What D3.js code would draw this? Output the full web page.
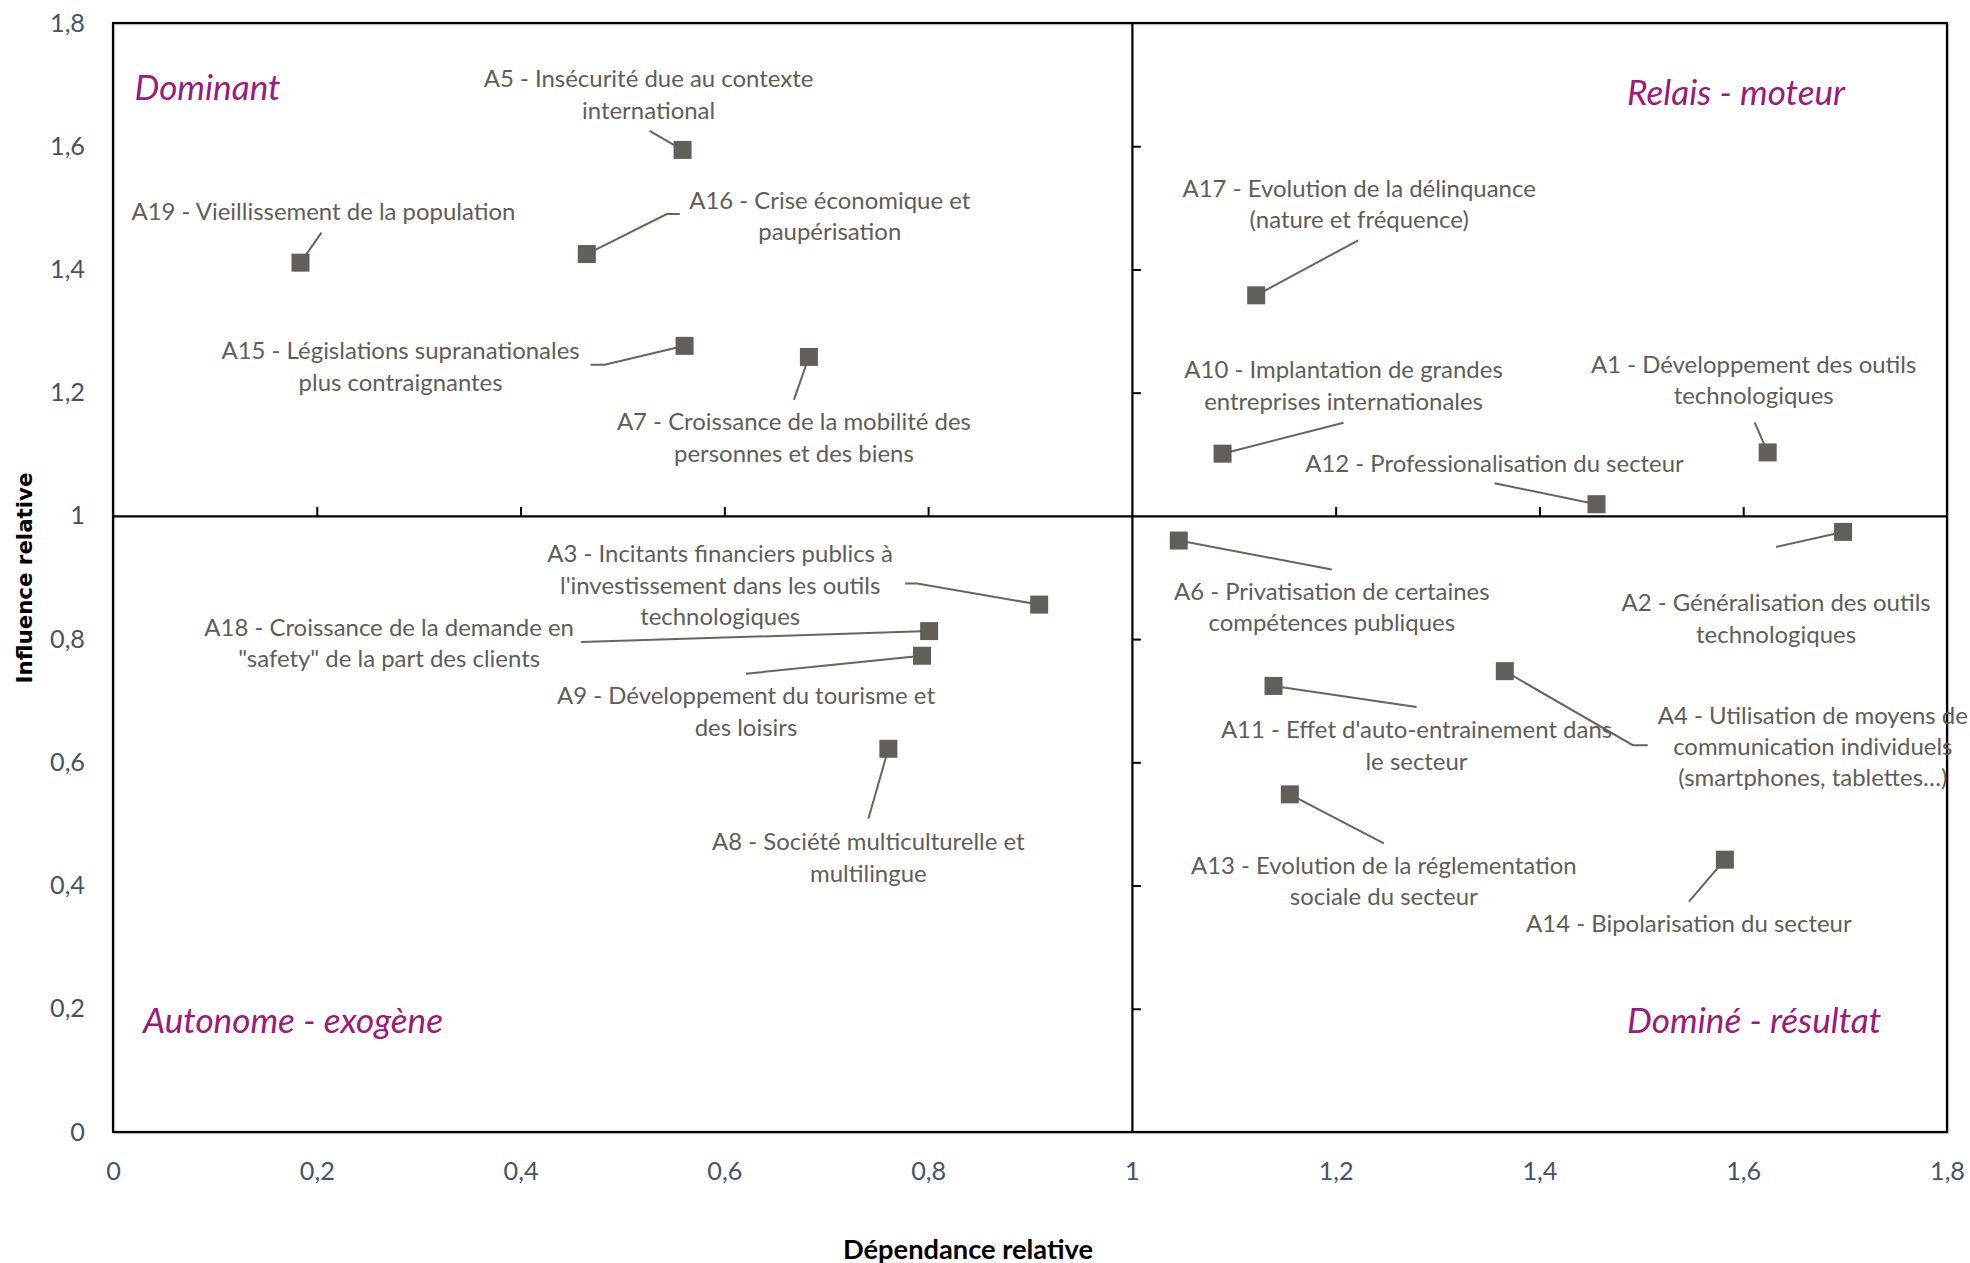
<!DOCTYPE html>
<html>
<head>
<meta charset="utf-8">
<script src="https://cdn.jsdelivr.net/npm/d3@7"></script>
<style>
  html, body { margin: 0; padding: 0; background: #fff; }
  svg { display: block; }
</style>
</head>
<body>
<svg id="chart" width="1970" height="1263"></svg>
<script>
// ---------------- DATA ----------------
const ids = ["A1","A2","A3","A4","A5","A6","A7","A8","A9","A10","A11","A12","A13","A14","A15","A16","A17","A18","A19"];
const dependance = [1.624, 1.698, 0.909, 1.366, 0.559, 1.046, 0.683, 0.761, 0.794, 1.089, 1.139, 1.456, 1.155, 1.582, 0.561, 0.465, 1.122, 0.801, 0.184];
const influence  = [1.103, 0.974, 0.856, 0.748, 1.594, 0.960, 1.258, 0.622, 0.773, 1.101, 0.724, 1.019, 0.548, 0.442, 1.276, 1.425, 1.358, 0.813, 1.411];
const labels = [
  ["A1 - Développement des outils", "technologiques"],
  ["A2 - Généralisation des outils", "technologiques"],
  ["A3 - Incitants financiers publics à", "l'investissement dans les outils", "technologiques"],
  ["A4 - Utilisation de moyens de", "communication individuels", "(smartphones, tablettes…)"],
  ["A5 - Insécurité due au contexte", "international"],
  ["A6 - Privatisation de certaines", "compétences publiques"],
  ["A7 - Croissance de la mobilité des", "personnes et des biens"],
  ["A8 - Société multiculturelle et", "multilingue"],
  ["A9 - Développement du tourisme et", "des loisirs"],
  ["A10 - Implantation de grandes", "entreprises internationales"],
  ["A11 - Effet d'auto-entrainement dans", "le secteur"],
  ["A12 - Professionalisation du secteur"],
  ["A13 - Evolution de la réglementation", "sociale du secteur"],
  ["A14 - Bipolarisation du secteur"],
  ["A15 - Législations supranationales", "plus contraignantes"],
  ["A16 - Crise économique et", "paupérisation"],
  ["A17 - Evolution de la délinquance", "(nature et fréquence)"],
  ["A18 - Croissance de la demande en", "\"safety\" de la part des clients"],
  ["A19 - Vieillissement de la population"]
];
const xTicks = [0, 0.2, 0.4, 0.6, 0.8, 1, 1.2, 1.4, 1.6, 1.8];
const yTicks = [0, 0.2, 0.4, 0.6, 0.8, 1, 1.2, 1.4, 1.6, 1.8];
const quadrantNames = ["Dominant", "Relais - moteur", "Autonome - exogène", "Dominé - résultat"];
const xTitle = "Dépendance relative";
const yTitle = "Influence relative";

// ---------------- LAYOUT (pixel offsets of labels / leader lines, relative to marker) ----------------
const labelOffset = [
  [-14, -89], [-67, 70], [-319, -52], [308, 43], [-34, -72], [153, 50], [-15, 64], [-20, 92], [-176, 39],
  [121, -85], [143, 43], [-102, -42], [94, 70], [-36, 63], [-284, 4], [243, -55], [103, -108], [-540, -5], [23, -52]
];
const leaderPts = [
  [[-13, -30]], [[-67, 15]], [[-122, -21], [-134, -21]], [[128, 74], [143, 74]], [[-33, -19]], [[153, 29]],
  [[-15, 43]], [[-20, 70]], [[-176, 18]], [[121, -31]], [[143, 21]], [[-102, -21]], [[94, 49]], [[-36, 42]],
  [[-80, 19], [-94, 19]], [[80, -40], [93, -40]], [[102, -55]], [[-348, 11]], [[21, -30]]
];
// quadrant name anchors (left edge, vertical centre) in axis units
const quadPos = [[0.021, 1.697], [1.486, 1.690], [0.0295, 0.184], [1.486, 0.184]];

// ---------------- CHART ----------------
const svg = d3.select("#chart");
const L = 113, R = 1947, T = 23, B = 1132;
const x = d3.scaleLinear().domain([0, 1.8]).range([L, R]);
const y = d3.scaleLinear().domain([0, 1.8]).range([B, T]);
const fmt = d => String(+d.toFixed(1)).replace(".", ",");

const FONT = "Lato, 'Open Sans', sans-serif";
function fitSize(str, family, weight, style, target) {
  const t = svg.append("text").attr("font-family", family).attr("font-weight", weight)
    .attr("font-style", style).attr("font-size", 100).text(str);
  const w = t.node().getComputedTextLength();
  t.remove();
  return 100 * target / w;
}
const labelSize = fitSize("A19 - Vieillissement de la population", FONT, 400, "normal", 384);
const quadSize = fitSize("Autonome - exogène", FONT, 400, "italic", 300);
const tickSize = fitSize("1,8", FONT, 400, "normal", 35);
const xTitleSize = fitSize(xTitle, FONT, 700, "normal", 250);
const yTitleSize = fitSize(yTitle, "'DejaVu Sans', Verdana, sans-serif", 700, "normal", 211);

// plot border
svg.append("rect").attr("x", L + 1.5).attr("y", T + 1.5).attr("width", R - L).attr("height", B - T)
  .attr("fill", "none").attr("stroke", "#d0d0d0").attr("stroke-width", 1.5);
svg.append("rect").attr("x", L).attr("y", T).attr("width", R - L).attr("height", B - T)
  .attr("fill", "none").attr("stroke", "#000").attr("stroke-width", 2.2);

// outer tick labels
const gx = svg.append("g").attr("transform", `translate(0,${B})`)
  .call(d3.axisBottom(x).tickValues(xTicks).tickFormat(fmt).tickSize(0).tickPadding(30));
const gy = svg.append("g").attr("transform", `translate(${L},0)`)
  .call(d3.axisLeft(y).tickValues(yTicks).tickFormat(fmt).tickSize(0).tickPadding(28));
[gx, gy].forEach(g => {
  g.select(".domain").remove();
  g.selectAll("text").attr("font-family", FONT).attr("font-size", tickSize).attr("fill", "#44546a");
});

// crossing axes at 1
const cx = svg.append("g").attr("transform", `translate(0,${y(1)})`)
  .call(d3.axisTop(x).tickValues(xTicks.filter(v => v > 0 && v < 1.8 && v !== 1)).tickFormat("").tickSize(9).tickSizeOuter(0));
const cy = svg.append("g").attr("transform", `translate(${x(1)},0)`)
  .call(d3.axisRight(y).tickValues(yTicks.filter(v => v > 0 && v < 1.8 && v !== 1)).tickFormat("").tickSize(9).tickSizeOuter(0));
[cx, cy].forEach(g => {
  g.select(".domain").attr("stroke", "#000").attr("stroke-width", 2.2);
  g.selectAll(".tick line").attr("stroke", "#000").attr("stroke-width", 2);
});

// quadrant names
quadrantNames.forEach((q, i) => {
  svg.append("text").attr("x", x(quadPos[i][0])).attr("y", y(quadPos[i][1]))
    .attr("dominant-baseline", "central")
    .attr("font-family", FONT).attr("font-style", "italic").attr("font-size", quadSize)
    .attr("fill", "#9b1a7a").text(q);
});

// data
const pts = ids.map((id, i) => ({ id, dx: dependance[i], iy: influence[i], lines: labels[i], off: labelOffset[i], lead: leaderPts[i] }));

// leader lines
svg.append("g").selectAll("path").data(pts).join("path")
  .attr("d", d => {
    const px = x(d.dx), py = y(d.iy);
    return d3.line()([[px, py]].concat(d.lead.map(p => [px + p[0], py + p[1]])));
  })
  .attr("fill", "none").attr("stroke", "#67645e").attr("stroke-width", 2);

// markers
const M = 18;
svg.append("g").selectAll("rect").data(pts).join("rect")
  .attr("x", d => x(d.dx) - M / 2).attr("y", d => y(d.iy) - M / 2)
  .attr("width", M).attr("height", M).attr("fill", "#625f59");

// labels
const lineH = 31.4;
const lg = svg.append("g").attr("font-family", FONT).attr("font-size", labelSize).attr("fill", "#5f5d58")
  .attr("text-anchor", "middle");
pts.forEach(d => {
  const t = lg.append("text");
  d.lines.forEach((ln, j) => {
    t.append("tspan").attr("x", x(d.dx) + d.off[0]).attr("y", y(d.iy) + d.off[1] + j * lineH)
      .attr("dominant-baseline", "central").text(ln);
  });
});

// axis titles
svg.append("text").attr("x", (L + R) / 2 - 62).attr("y", 1248).attr("text-anchor", "middle")
  .attr("dominant-baseline", "central")
  .attr("font-family", FONT).attr("font-weight", 700).attr("font-size", xTitleSize).attr("fill", "#000").text(xTitle);
svg.append("text").attr("transform", `translate(24,578) rotate(-90)`).attr("text-anchor", "middle")
  .attr("dominant-baseline", "central")
  .attr("font-family", "'DejaVu Sans', Verdana, sans-serif").attr("font-weight", 700).attr("font-size", yTitleSize)
  .attr("fill", "#000").text(yTitle);
</script>
</body>
</html>
